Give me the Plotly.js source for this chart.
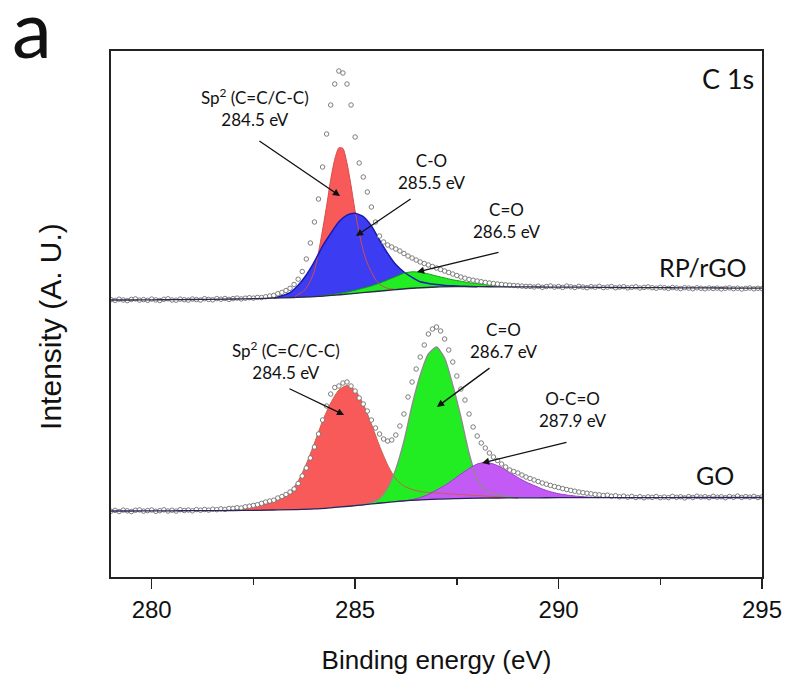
<!DOCTYPE html>
<html>
<head>
<meta charset="utf-8">
<script src="https://cdn.plot.ly/plotly-3.0.1.min.js"></script>
<style>html,body{margin:0;padding:0;background:#fff;}#chart{width:798px;height:696px;}</style>
</head>
<body>
<div id="chart"></div>
<script>
// ---------- data (binding energy in eV, intensity in arbitrary units) ----------
const xTickVals = [280, 285, 290, 295];
const xTickText = ["280", "285", "290", "295"];

// measured spectra, 279.0 .. 295.0 eV in 0.1 eV steps
const rgoData = [
  277.3, 276.6, 277.8, 277.0, 276.4, 277.6, 278.1, 276.9, 277.4, 276.7,
  277.9, 277.1, 276.5, 277.7, 278.2, 277.0, 276.8, 277.9, 277.3, 276.9,
  278.0, 277.4, 277.0, 278.3, 277.6, 277.2, 278.4, 277.8, 278.5, 277.6,
  278.4, 278.9, 278.1, 278.8, 279.3, 278.9, 279.6, 279.4, 280.2, 281.0,
  281.6, 283.3, 284.6, 286.5, 288.7, 292.5, 297.8, 305.5, 318, 334,
  355, 378, 410, 443, 472, 493, 506, 504, 493, 472,
  440, 414, 400, 385, 370, 355, 341, 335, 332, 330,
  328, 326, 323.5, 321, 319, 317, 315, 313.5, 312, 310.5,
  309, 307.5, 306, 304.5, 303, 301.5, 300, 298.8, 297.6, 296.8,
  296, 295.3, 294.6, 294, 293.5, 293, 292.6, 292.2, 291.8, 291.5,
  291.2, 290.9, 290.6, 290.6, 290.0, 290.8, 289.7, 290.4, 291.0, 289.9,
  290.5, 289.6, 290.9, 290.2, 289.5, 290.6, 290.0, 289.3, 290.4, 289.8,
  290.7, 289.4, 289.9, 290.5, 289.2, 289.8, 290.3, 289.1, 289.7, 290.2,
  289.0, 289.6, 290.1, 289.3, 288.8, 289.7, 289.2, 288.6, 289.5, 289.0,
  288.4, 289.3, 288.9, 288.3, 289.2, 288.7, 288.2, 289.0, 288.5, 288.9,
  288.1, 288.7, 289.1, 288.3, 288.8, 288.0, 288.6, 289.0, 288.2, 288.7,
  288.4
];
const goData = [
  65.8, 66.6, 65.5, 66.9, 66.2, 65.4, 66.7, 67.1, 65.9, 66.4,
  67.0, 65.7, 66.3, 67.2, 66.0, 66.8, 65.9, 67.3, 66.5, 67.0,
  66.2, 67.4, 66.8, 67.5, 66.9, 67.8, 67.3, 68.1, 67.6, 68.5,
  68.6, 69.3, 69.0, 70.2, 70.8, 71.6, 72.3, 73.6, 75.0, 76.0,
  76.8, 79.0, 80.5, 82.5, 85.0, 88, 93.5, 101, 109, 119,
  130, 143, 157, 171, 183, 189.5, 191, 194, 195, 191,
  186, 179, 173, 166, 157, 149, 143, 138, 136, 137,
  142, 151, 163, 180, 195, 208, 220, 232, 243, 248,
  250, 246, 238, 227, 215, 201, 188, 177, 163, 150,
  141, 134, 129, 124, 120, 116.5, 113, 110, 107, 105.5,
  104, 102, 100, 98.5, 97, 95.5, 94, 92.8, 91.6, 90.5,
  89.5, 88.4, 87.5, 86.6, 85.8, 85.0, 84.3, 83.8, 83.2, 82.6,
  82.2, 81.5, 81.9, 80.8, 81.3, 80.2, 80.9, 79.8, 80.6, 79.5,
  80.3, 79.2, 80.1, 79.6, 80.5, 79.3, 80.0, 79.4, 80.6, 79.7,
  80.2, 79.1, 80.4, 79.5, 80.8, 79.9, 80.3, 79.4, 80.7, 79.8,
  80.2, 79.3, 80.5, 79.7, 80.9, 79.6, 80.4, 79.8, 80.6, 79.5,
  80.1
];

// Shirley-type backgrounds, 279 .. 295 eV in 0.5 eV steps
const rgoBackground = [
  277.0, 277.0, 277.2, 277.3, 277.5, 277.7, 278.0, 278.4, 279.0, 279.5,
  280.3, 281.8, 283.7, 285.5, 287.4, 289.0, 290.0, 290.3, 290.3, 290.2,
  290.1, 290.0, 289.9, 289.8, 289.7, 289.5, 289.4, 289.3, 289.2, 289.1,
  289.0, 288.9, 288.8
];
const goBackground = [
  66.0, 66.0, 66.1, 66.2, 66.3, 66.4, 66.5, 66.7, 67.0, 67.4,
  68.1, 69.6, 71.3, 73.4, 75.4, 76.8, 77.8, 78.4, 78.8, 79.0,
  79.1, 79.2, 79.3, 79.3, 79.3, 79.4, 79.4, 79.4, 79.5, 79.5,
  79.5, 79.5, 79.5
];

// RP/rGO fitted components
const rgoSp2 = [ // 283.5 .. 286.0, step 0.1
  279.5, 282.7, 284.8, 289.0, 296.1, 306.3, 324.6, 346.9, 371.2, 397.5,
  417.8, 429.2, 428.6, 413.9, 391.3, 365.7, 344.1, 326.4, 313.8, 305.1,
  297.5, 292.9, 290.3, 288.7, 288.0, 287.4
];
const rgoCO = [ // 283.0 .. 288.0, step 0.2
  279.0, 281.2, 284.4, 291.7, 302.0, 315.3, 330.9, 343.5, 355.2, 361.9,
  363.7, 360.4, 351.1, 336.9, 323.6, 312.4, 305.0, 299.7, 295.2, 293.6,
  292.5, 291.6, 291.2, 290.8, 290.5, 290.3
];
const rgoCdO = [ // 284.0 .. 289.0, step 0.2
  280.3, 281.2, 282.2, 283.4, 284.9, 286.7, 288.9, 291.1, 293.9, 297.1,
  300.4, 303.8, 305.2, 304.7, 303.1, 301.0, 299.1, 297.2, 295.8, 294.3,
  293.3, 292.3, 291.7, 291.2, 290.6, 290.1
];

// GO fitted components
const goSp2 = [ // 281.0 .. 289.0, step 0.2
  66.3, 66.5, 66.8, 67.2, 67.7, 68.3, 69.0, 69.8, 71.0, 72.8,
  75.5, 79, 85, 96, 113, 134, 156, 174, 187, 191.5,
  187, 173, 153, 131, 112, 98, 91, 87.5, 85.5, 84.5,
  84, 83.5, 83, 82.5, 82, 81.5, 81, 80.5, 80, 79.5,
  79.1
];
const goCdO = [ // 285.0 .. 289.0, step 0.2
  71.3, 72.4, 74.5, 78.5, 89, 108, 136, 172, 202, 223,
  230, 219, 192, 160, 124, 98, 87, 83.5, 81.5, 80,
  79.1
];
const goOCdO = [ // 286.0 .. 291.0, step 0.2
  75.4, 76.2, 77.3, 79.5, 82.5, 87, 91.5, 97, 103, 108.5,
  113, 114.7, 113, 109.5, 104.5, 99.5, 95, 91.5, 88, 85.3,
  83.3, 82, 81, 80.3, 79.7, 79.3
];

// ---------- build ----------
function grid(start, step, n) {
  const a = [];
  for (let i = 0; i < n; i++) a.push(+(start + i * step).toFixed(2));
  return a;
}
const xData = grid(279, 0.1, rgoData.length);
const xBg = grid(279, 0.5, rgoBackground.length);

function fillTrace(start, step, ys, bg, color) {
  const xs = grid(start, step, ys.length);
  const x0 = xs[0], x1 = xs[xs.length - 1];
  const idx = [];
  xBg.forEach((v, i) => { if (v >= x0 - 1e-6 && v <= x1 + 1e-6) idx.push(i); });
  idx.reverse();
  return {
    x: xs.concat(idx.map(i => xBg[i])),
    y: ys.concat(idx.map(i => bg[i])),
    type: 'scatter', mode: 'lines', fill: 'toself', fillcolor: color,
    line: {width: 0, color: color, shape: 'spline', smoothing: 0.6},
    hoverinfo: 'skip', showlegend: false
  };
}
function outline(start, step, ys, color, w) {
  return {
    x: grid(start, step, ys.length), y: ys, type: 'scatter', mode: 'lines',
    line: {color: color, width: w, shape: 'spline', smoothing: 0.6},
    hoverinfo: 'skip', showlegend: false
  };
}

const RED = '#F85A5A', BLUE = '#3C3CF2', GREEN = '#22EC22', PURPLE = '#C45AF5';

const traces = [
  fillTrace(283.5, 0.1, rgoSp2, rgoBackground, RED),
  fillTrace(283.0, 0.2, rgoCO, rgoBackground, BLUE),
  fillTrace(284.0, 0.2, rgoCdO, rgoBackground, GREEN),
  fillTrace(281.0, 0.2, goSp2, goBackground, RED),
  fillTrace(285.0, 0.2, goCdO, goBackground, GREEN),
  fillTrace(286.0, 0.2, goOCdO, goBackground, PURPLE),
  outline(283.5, 0.1, rgoSp2, '#D84A4A', 1),
  outline(283.0, 0.2, rgoCO, '#1A1AB0', 1.5),
  outline(284.0, 0.2, rgoCdO, '#149A14', 1),
  outline(281.0, 0.2, goSp2, '#C8604A', 1),
  outline(285.0, 0.2, goCdO, '#8C8C8C', 1.3),
  outline(286.0, 0.2, goOCdO, '#9A3AD0', 1),
  {x: xData, y: rgoData, type: 'scatter', mode: 'markers',
   marker: {symbol: 'circle', size: 4.5, color: '#ffffff', line: {color: '#707070', width: 0.9}},
   hoverinfo: 'skip', showlegend: false},
  {x: xData, y: goData, type: 'scatter', mode: 'markers',
   marker: {symbol: 'circle', size: 4.5, color: '#ffffff', line: {color: '#707070', width: 0.9}},
   hoverinfo: 'skip', showlegend: false},
  {x: xBg, y: rgoBackground, type: 'scatter', mode: 'lines',
   line: {color: '#2a2a48', width: 1.3, shape: 'spline'}, hoverinfo: 'skip', showlegend: false},
  {x: xBg, y: goBackground, type: 'scatter', mode: 'lines',
   line: {color: '#2a2458', width: 1.3, shape: 'spline'}, hoverinfo: 'skip', showlegend: false}
];

const LBL = {family: 'Lato, "Open Sans", sans-serif', size: 17, color: '#111'};
const BIG = {family: 'Lato, "Open Sans", sans-serif', size: 25, color: '#111'};
function txt(x, y, text, font) {
  return {x: x, y: y, xref: 'x', yref: 'y', text: text, showarrow: false,
          xanchor: 'center', yanchor: 'middle', font: font || LBL};
}
function arrow(ax, ay, x, y) {
  return {x: x, y: y, ax: ax, ay: ay, xref: 'x', yref: 'y', axref: 'x', ayref: 'y',
          text: '', showarrow: true, arrowhead: 2, arrowsize: 1.1, arrowwidth: 1.3,
          arrowcolor: '#111', standoff: 0, startstandoff: 0};
}

const AX = {family: '"Liberation Sans", Arial, sans-serif', color: '#111'};

const annotations = [
  {x: -0.121, y: 1.046, xref: 'paper', yref: 'paper', text: 'a', showarrow: false,
   xanchor: 'center', yanchor: 'middle', font: {family: 'Lato, "Open Sans", sans-serif', size: 80, color: '#111'}},
  {x: -0.094, y: 0.477, xref: 'paper', yref: 'paper', text: 'Intensity (A. U.)', showarrow: false,
   textangle: -90, xanchor: 'center', yanchor: 'middle', font: Object.assign({size: 30}, AX)},
  {x: 294.85, y: 499, xref: 'x', yref: 'y', text: 'C 1s', showarrow: false,
   xanchor: 'right', yanchor: 'middle', font: {family: 'Lato, "Open Sans", sans-serif', size: 27, color: '#111'}},
  txt(293.55, 310, 'RP/rGO', BIG),
  txt(293.84, 102, 'GO', BIG),
  txt(282.54, 470, 'Sp<sup>2</sup> (C=C/C-C)<br>284.5 eV'),
  arrow(282.61, 437, 284.63, 381),
  txt(286.89, 406, 'C-O<br>285.5 eV'),
  arrow(286.40, 379, 285.02, 341),
  txt(288.73, 357, 'C=O<br>286.5 eV'),
  arrow(288.56, 325, 286.52, 305),
  txt(283.30, 217, 'Sp<sup>2</sup> (C=C/C-C)<br>284.5 eV'),
  arrow(283.35, 189, 284.73, 162),
  txt(288.66, 237, 'C=O<br>286.7 eV'),
  arrow(288.34, 210, 287.01, 170),
  txt(290.35, 168, 'O-C=O<br>287.9 eV'),
  arrow(290.23, 135, 288.12, 114)
];

const layout = {
  width: 798, height: 696,
  margin: {l: 111, r: 36, t: 51, b: 119},
  paper_bgcolor: '#ffffff', plot_bgcolor: '#ffffff',
  showlegend: false,
  xaxis: {
    range: [279, 295], showgrid: false, zeroline: false,
    showline: true, linecolor: '#222', linewidth: 1.8, mirror: true,
    ticks: 'outside', ticklen: 10, tickwidth: 1.5, tickcolor: '#222',
    tickvals: xTickVals, ticktext: xTickText,
    tickfont: Object.assign({size: 24}, AX),
    minor: {tickvals: [282.5, 287.5, 292.5], ticks: 'outside', ticklen: 6, tickwidth: 1.5, tickcolor: '#222'},
    title: {text: 'Binding energy (eV)', font: Object.assign({size: 26}, AX), standoff: 29}
  },
  yaxis: {
    range: [0, 526], showgrid: false, zeroline: false,
    showline: true, linecolor: '#222', linewidth: 1.8, mirror: true,
    ticks: '', showticklabels: false
  },
  annotations: annotations
};

Plotly.newPlot('chart', traces, layout, {staticPlot: true, displayModeBar: false});
</script>
</body>
</html>
